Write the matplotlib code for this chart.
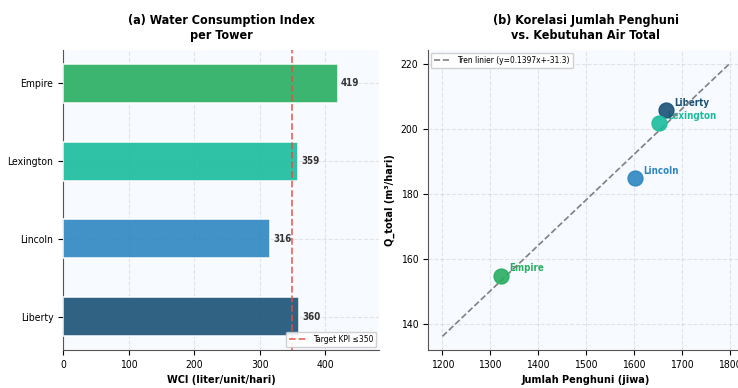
import matplotlib
matplotlib.use("Agg")
import matplotlib.pyplot as plt
import numpy as np

plt.rcParams['font.family'] = ['DejaVu Sans']
plt.rcParams['font.stretch'] = 'condensed'

# WCI per tower (liter/unit/hari)
towers = ["Liberty", "Lincoln", "Lexington", "Empire"]
wci = [360, 316, 359, 419]
colors = ["#1a5276", "#2e86c1", "#1abc9c", "#27ae60"]
kpi_target = 350

# occupants vs total water demand
occupants = [1668, 1603, 1653, 1323]
q_total = [206, 185, 202, 155]
slope = 0.1397
intercept = -31.3
trend_x = [1200, 1800]

bg = "#f7faff"

fig = plt.figure(figsize=(7.38, 3.88), dpi=100)
ax1 = fig.add_axes([0.0854, 0.098, 0.428, 0.773])
ax2 = fig.add_axes([0.580, 0.098, 0.428, 0.773])

# --- (a) horizontal bars ---
ax1.set_facecolor(bg)
y = np.arange(len(towers))
ax1.barh(y, wci, height=0.5, color=colors, alpha=0.9, edgecolor="white", linewidth=1.2, zorder=3)
for yi, v in zip(y, wci):
    ax1.text(v + 5, yi, f"{v}", va="center", ha="left", fontsize=7, fontweight="bold", color="#333333")
ax1.axvline(kpi_target, color="#e74c3c", ls="--", lw=1.3, alpha=0.8, zorder=4,
            label=f"Target KPI ≤{kpi_target}")
ax1.set_yticks(y)
ax1.set_yticklabels(towers, fontsize=7.5)
ax1.set_xlim(0, max(wci) * 1.15)
ax1.tick_params(axis="x", labelsize=7.5)
ax1.set_xlabel("WCI (liter/unit/hari)", fontsize=7.8, fontweight="bold")
ax1.set_title("(a) Water Consumption Index\nper Tower", fontsize=9, fontweight="bold", pad=8)
ax1.grid(True, ls="--", alpha=0.3, zorder=0)
ax1.legend(loc="lower right", fontsize=6, framealpha=0.9, borderaxespad=0.3)

# --- (b) scatter + trend ---
ax2.set_facecolor(bg)
for xo, yo, c, name in zip(occupants, q_total, colors, towers):
    ax2.scatter(xo, yo, s=115, color=c, alpha=0.9, zorder=4)
    ax2.annotate(name, (xo, yo), xytext=(6, 3), textcoords="offset points",
                 fontsize=7, fontweight="bold", color=c)
tx = np.array(trend_x)
ax2.plot(tx, slope * tx + intercept, ls="--", color="gray", lw=1.2, zorder=3,
         label=f"Tren linier (y={slope}x+{intercept})")
ax2.set_xlabel("Jumlah Penghuni (jiwa)", fontsize=7.8, fontweight="bold")
ax2.set_ylabel("Q_total (m³/hari)", fontsize=7.8, fontweight="bold")
ax2.set_title("(b) Korelasi Jumlah Penghuni\nvs. Kebutuhan Air Total", fontsize=9, fontweight="bold", pad=8)
ax2.set_yticks([140, 160, 180, 200, 220])
ax2.tick_params(labelsize=7.5)
ax2.grid(True, ls="--", alpha=0.3, zorder=0)
ax2.legend(loc="upper left", fontsize=6, framealpha=0.9, borderaxespad=0.3)

for ax in (ax1, ax2):
    ax.spines["top"].set_visible(False)
    ax.spines["right"].set_visible(False)
    ax.spines["left"].set_color("#555555")
    ax.spines["bottom"].set_color("#555555")

fig.savefig("out.png", dpi=100, facecolor="white")
